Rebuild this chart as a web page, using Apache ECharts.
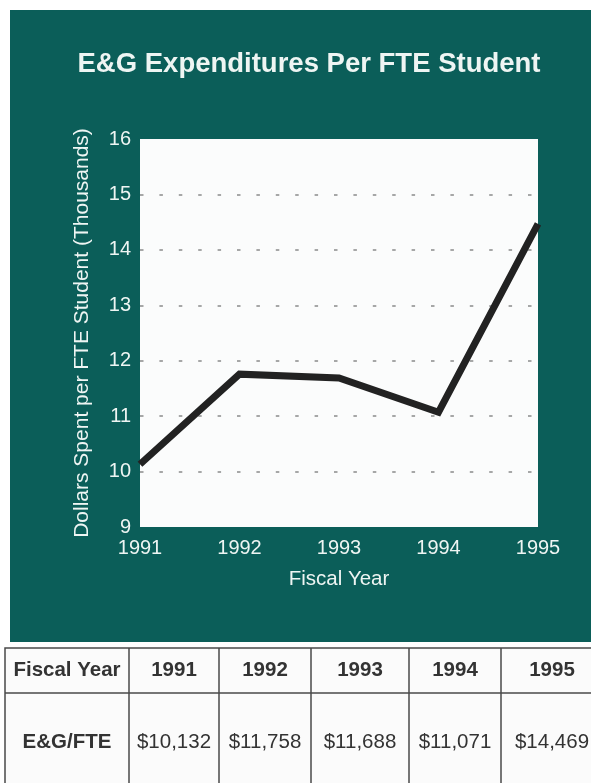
<!DOCTYPE html>
<html>
<head>
<meta charset="utf-8">
<script src="https://cdn.jsdelivr.net/npm/echarts@6/dist/echarts.min.js"></script>
<style>
  html, body { margin: 0; padding: 0; background: #ffffff; }
  #chart { width: 591px; height: 783px; }
</style>
</head>
<body>
<div id="chart"></div>
<script>
// Fiscal years and E&G expenditures per FTE student (dollars)
var years = ['1991', '1992', '1993', '1994', '1995'];
var spendPerFte = [10132, 11758, 11688, 11071, 14469];
var yTicks = { min: 9, max: 16, step: 1 };

var titleText = 'E&G Expenditures Per FTE Student';
var xAxisTitle = 'Fiscal Year';
var yAxisTitle = 'Dollars Spent per FTE Student (Thousands)';
var rowHeads = ['Fiscal Year', 'E&G/FTE'];

var TEAL = '#0b5e59';
var LIGHT = '#eef5f3';
var FONT = '"Liberation Sans", Arial, Helvetica, sans-serif';

// plotted in thousands of dollars
var spendThousands = spendPerFte.map(function (v) { return v / 1000; });

function money(v) { return '$' + v.toLocaleString('en-US'); }

// summary table below the chart
var colEdges = [5, 129, 219, 311, 409, 501, 603];
var rowEdges = [648, 693, 795];
var tableEls = [];
tableEls.push({
  type: 'rect', shape: { x: colEdges[0], y: rowEdges[0], width: colEdges[6] - colEdges[0], height: rowEdges[2] - rowEdges[0] },
  style: { fill: '#fbfbfb', stroke: '#4a4a4a', lineWidth: 1.5 }, silent: true
});
tableEls.push({
  type: 'line', shape: { x1: colEdges[0], y1: rowEdges[1], x2: colEdges[6], y2: rowEdges[1] },
  style: { stroke: '#4a4a4a', lineWidth: 1.5 }, silent: true
});
for (var c = 1; c < colEdges.length - 1; c++) {
  tableEls.push({
    type: 'line', shape: { x1: colEdges[c], y1: rowEdges[0], x2: colEdges[c], y2: rowEdges[2] },
    style: { stroke: '#4a4a4a', lineWidth: 1.5 }, silent: true
  });
}
var headRowY = (rowEdges[0] + rowEdges[1]) / 2;
var valRowY = 742;
function cellText(col, y, text, bold) {
  return {
    type: 'text', x: (colEdges[col] + colEdges[col + 1]) / 2, y: y, silent: true,
    style: {
      text: text, fill: '#333333', font: (bold ? 'bold ' : '') + '20.5px ' + FONT,
      textAlign: 'center', textVerticalAlign: 'middle'
    }
  };
}
tableEls.push(cellText(0, headRowY, rowHeads[0], true));
tableEls.push(cellText(0, valRowY, rowHeads[1], true));
years.forEach(function (y, i) {
  tableEls.push(cellText(i + 1, headRowY, y, true));
  tableEls.push(cellText(i + 1, valRowY, money(spendPerFte[i]), false));
});

var gridColors = [];
for (var t = yTicks.min; t <= yTicks.max; t += yTicks.step) {
  gridColors.push(t === yTicks.min || t === yTicks.max ? 'rgba(0,0,0,0)' : '#8a8a8a');
}

var chart = echarts.init(document.getElementById('chart'), null, { renderer: 'canvas' });
chart.setOption({
  backgroundColor: '#ffffff',
  animation: false,
  textStyle: { fontFamily: FONT },
  graphic: [
    {
      type: 'rect', z: -10, silent: true,
      shape: { x: 10, y: 10, width: 600, height: 632 },
      style: { fill: TEAL }
    },
    {
      type: 'text', x: 309, y: 64, silent: true,
      style: {
        text: titleText, fill: LIGHT, font: 'bold 27.5px ' + FONT,
        textAlign: 'center', textVerticalAlign: 'middle'
      }
    }
  ].concat(tableEls),
  grid: {
    left: 140, top: 139, right: 53, bottom: 256,
    show: true, backgroundColor: '#fbfcfc', borderWidth: 0
  },
  xAxis: {
    type: 'category',
    data: years,
    boundaryGap: false,
    axisLine: { show: false },
    axisTick: { show: false },
    splitLine: { show: false },
    axisLabel: { color: LIGHT, fontSize: 20, margin: 11, fontFamily: FONT },
    name: xAxisTitle,
    nameLocation: 'middle',
    nameGap: 42,
    nameTextStyle: { color: LIGHT, fontSize: 20.5, fontFamily: FONT }
  },
  yAxis: {
    type: 'value',
    min: yTicks.min, max: yTicks.max, interval: yTicks.step,
    axisLine: { show: false },
    axisTick: { show: false },
    axisLabel: { color: LIGHT, fontSize: 20, margin: 9, fontFamily: FONT },
    splitLine: {
      show: true,
      lineStyle: { color: gridColors, width: 1.5, type: [3.5, 15.9] }
    },
    name: yAxisTitle,
    nameLocation: 'middle',
    nameGap: 47,
    nameTextStyle: { color: LIGHT, fontSize: 21, fontFamily: FONT }
  },
  series: [{
    type: 'line',
    data: spendThousands,
    symbol: 'none',
    clip: false,
    lineStyle: { color: '#222222', width: 7, cap: 'butt', join: 'miter' },
    z: 5
  }]
});
</script>
</body>
</html>
